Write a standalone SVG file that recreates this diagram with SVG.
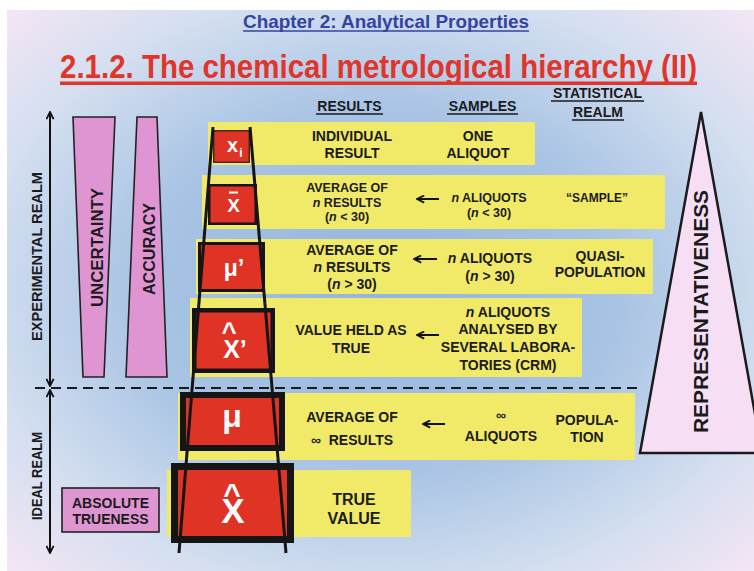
<svg xmlns="http://www.w3.org/2000/svg" width="754" height="571" viewBox="0 0 754 571">
<defs>
<radialGradient id="bg" cx="0.5" cy="0.5" r="0.72" gradientUnits="objectBoundingBox">
<stop offset="0" stop-color="#92b5de"/>
<stop offset="0.45" stop-color="#a9c4e4"/>
<stop offset="0.75" stop-color="#d4dff0"/>
<stop offset="1" stop-color="#f7e6f5"/>
</radialGradient>
<marker id="ah" viewBox="0 0 10 10" refX="9" refY="5" markerWidth="9" markerHeight="9" markerUnits="userSpaceOnUse" orient="auto-start-reverse">
<path d="M1,1 L9,5 L1,9" fill="none" stroke="#111" stroke-width="2"/>
</marker>
<style>
text{font-family:"Liberation Sans",Arial,"DejaVu Sans",sans-serif;font-weight:bold;fill:#1b1b1b}
.t14{font-size:14px;text-anchor:middle}
.t12{font-size:12.5px;text-anchor:middle}
.t16{font-size:16px;text-anchor:middle}
.hdr{font-size:14px;text-anchor:middle}
.ul{stroke:#1b1b1b;stroke-width:1.6}
.yel{fill:#f0ea68}
.red{fill:#df3325;stroke:#151515}
.sym{fill:#ffffff;text-anchor:middle}
.pink{fill:#e095d3;stroke:#222;stroke-width:1.6}
.arr{stroke:#111;stroke-width:2;fill:none}
.pyr{stroke:#151515;stroke-width:3;fill:none}
.vert{font-size:14px;text-anchor:middle}
</style>
</defs>
<rect x="7" y="10" width="747" height="561" fill="url(#bg)"/>

<g id="titles">
<text x="386" y="28" font-size="19" text-anchor="middle" textLength="286" lengthAdjust="spacingAndGlyphs" style="fill:#3443a0">Chapter 2: Analytical Properties</text>
<line x1="243" y1="31" x2="529" y2="31" stroke="#3443a0" stroke-width="1.6"/>
<text x="378.5" y="78" font-size="33" text-anchor="middle" textLength="637" lengthAdjust="spacingAndGlyphs" style="fill:#e0352a">2.1.2. The chemical metrological hierarchy (II)</text>
<rect x="60" y="81.5" width="637" height="3.5" fill="#e0352a"/>
</g>

<g id="headers">
<text class="hdr" x="349.5" y="111">RESULTS</text>
<line class="ul" x1="316" y1="114" x2="383" y2="114"/>
<text class="hdr" x="482.5" y="111">SAMPLES</text>
<line class="ul" x1="447" y1="114" x2="518" y2="114"/>
<text class="hdr" x="597.5" y="98">STATISTICAL</text>
<line class="ul" x1="551" y1="101" x2="644" y2="101"/>
<text class="hdr" x="598" y="117">REALM</text>
<line class="ul" x1="572" y1="120" x2="624" y2="120"/>
</g>

<g id="uncertainty">
<polygon class="pink" points="73,117 115,117 104,377 83,377"/>
<text x="0" y="0" font-size="16.5" text-anchor="middle" textLength="119" lengthAdjust="spacingAndGlyphs" transform="translate(102.5,247.5) rotate(-90)">UNCERTAINTY</text>
</g>
<g id="accuracy">
<polygon class="pink" points="137,117 157,117 167,377 126,377"/>
<text x="0" y="0" font-size="16" text-anchor="middle" textLength="92" lengthAdjust="spacingAndGlyphs" transform="translate(155,249) rotate(-90)">ACCURACY</text>
</g>

<g id="representativeness">
<polygon points="701,112 640,453 762,453" fill="#f6dff4" stroke="#1b1b1b" stroke-width="2.5"/>
<text x="0" y="0" font-size="20.5" text-anchor="middle" textLength="243" lengthAdjust="spacingAndGlyphs" transform="translate(708,311.5) rotate(-90)">REPRESENTATIVENESS</text>
</g>

<g id="realm-labels">
<text class="vert" x="0" y="0" textLength="169" lengthAdjust="spacingAndGlyphs" transform="translate(41.5,256.5) rotate(-90)">EXPERIMENTAL REALM</text>
<text class="vert" x="0" y="0" textLength="88" lengthAdjust="spacingAndGlyphs" transform="translate(41.5,476) rotate(-90)">IDEAL REALM</text>
</g>

<g id="row1">
<rect class="yel" x="208" y="122" width="327" height="43"/>
<rect class="red" x="213.75" y="130.75" width="35.5" height="31.5" stroke-width="1.5" style="stroke:#4a2a14"/>
<text x="227" y="152" font-size="20" style="fill:#fff">x<tspan font-size="12" dx="1" dy="5">i</tspan></text>
<text class="t14" x="352" y="141">INDIVIDUAL</text>
<text class="t14" x="352" y="158">RESULT</text>
<text class="t14" x="478" y="141">ONE</text>
<text class="t14" x="478" y="158">ALIQUOT</text>
</g>

<g id="row2">
<rect class="yel" x="202" y="175" width="463" height="54"/>
<rect class="red" x="209.25" y="185.25" width="46.5" height="38.5" stroke-width="2.5"/>
<rect x="229" y="191.5" width="9" height="2" fill="#fff"/>
<text class="sym" x="233.5" y="212" font-size="19">X</text>
<text class="t12" x="347" y="192">AVERAGE OF</text>
<text class="t12" x="347" y="207"><tspan font-style="italic">n</tspan> RESULTS</text>
<text class="t12" x="347" y="221">(<tspan font-style="italic">n</tspan> &lt; 30)</text>
<text class="t12" x="489" y="202"><tspan font-style="italic">n</tspan> ALIQUOTS</text>
<text class="t12" x="489" y="217">(<tspan font-style="italic">n</tspan> &lt; 30)</text>
<text x="597" y="202" font-size="12" text-anchor="middle">“SAMPLE”</text>
</g>

<g id="row3">
<rect class="yel" x="196" y="239" width="457" height="55"/>
<rect class="red" x="199.5" y="243.5" width="64" height="47" stroke-width="3"/>
<text class="sym" x="234" y="276" font-size="23">μ’</text>
<text class="t14" x="352" y="255">AVERAGE OF</text>
<text class="t14" x="352" y="272"><tspan font-style="italic">n</tspan> RESULTS</text>
<text class="t14" x="352" y="289">(<tspan font-style="italic">n</tspan> &gt; 30)</text>
<text class="t14" x="490" y="263"><tspan font-style="italic">n</tspan> ALIQUOTS</text>
<text class="t14" x="490" y="281">(<tspan font-style="italic">n</tspan> &gt; 30)</text>
<text class="t14" x="600" y="261">QUASI-</text>
<text class="t14" x="600" y="277">POPULATION</text>
</g>

<g id="row4">
<rect class="yel" x="190" y="298" width="392" height="79"/>
<rect class="red" x="194.25" y="310.25" width="78.5" height="60.5" stroke-width="4.5"/>
<text class="sym"><tspan x="229" y="341" font-size="26">^</tspan><tspan x="235" y="358" font-size="25">X’</tspan></text>
<text class="t14" x="351" y="335">VALUE HELD AS</text>
<text class="t14" x="351" y="353">TRUE</text>
<text class="t14" x="508" y="317"><tspan font-style="italic">n</tspan> ALIQUOTS</text>
<text class="t14" x="508" y="334">ANALYSED BY</text>
<text class="t14" x="508" y="352">SEVERAL LABORA-</text>
<text class="t14" x="508" y="370">TORIES (CRM)</text>
</g>

<g id="row5">
<rect class="yel" x="178" y="393" width="457" height="67"/>
<rect class="red" x="183" y="395" width="99" height="53" stroke-width="6"/>
<text class="sym" x="232" y="427" font-size="32">μ</text>
<text class="t14" x="352" y="422">AVERAGE OF</text>
<text class="t14" x="352" y="445" xml:space="preserve">∞  RESULTS</text>
<text class="t14" x="501" y="420">∞</text>
<text class="t14" x="501" y="441">ALIQUOTS</text>
<text class="t14" x="587" y="425">POPULA-</text>
<text class="t14" x="587" y="442">TION</text>
</g>

<g id="row6">
<rect class="yel" x="167" y="470" width="244" height="67"/>
<rect class="red" x="174.5" y="466.5" width="116" height="73" stroke-width="7"/>
<text class="sym"><tspan x="232" y="504" font-size="30">^</tspan><tspan x="233" y="523" font-size="35">X</tspan></text>
<text class="t16" x="354" y="505">TRUE</text>
<text class="t16" x="354" y="524">VALUE</text>
</g>

<g id="absolute-trueness">
<rect x="62" y="488" width="97" height="44" fill="#e095d3" stroke="#222" stroke-width="1.6"/>
<text class="t14" x="110.5" y="508">ABSOLUTE</text>
<text class="t14" x="110.5" y="524">TRUENESS</text>
</g>

<g id="connectors">
<line class="pyr" x1="213" y1="127" x2="179" y2="553"/>
<line class="pyr" x1="250" y1="127" x2="286" y2="553"/>
<line x1="35" y1="388" x2="640" y2="388" stroke="#1b1b1b" stroke-width="2" stroke-dasharray="10 6"/>
<line class="arr" x1="50" y1="112" x2="50" y2="386" marker-start="url(#ah)" marker-end="url(#ah)"/>
<line class="arr" x1="50" y1="390" x2="50" y2="553" marker-start="url(#ah)" marker-end="url(#ah)"/>
<line class="arr" x1="439" y1="199" x2="417" y2="199" marker-end="url(#ah)"/>
<line class="arr" x1="437" y1="259" x2="414" y2="259" marker-end="url(#ah)"/>
<line class="arr" x1="439" y1="335" x2="417" y2="335" marker-end="url(#ah)"/>
<line class="arr" x1="445" y1="424" x2="423" y2="424" marker-end="url(#ah)"/>
</g>
</svg>
